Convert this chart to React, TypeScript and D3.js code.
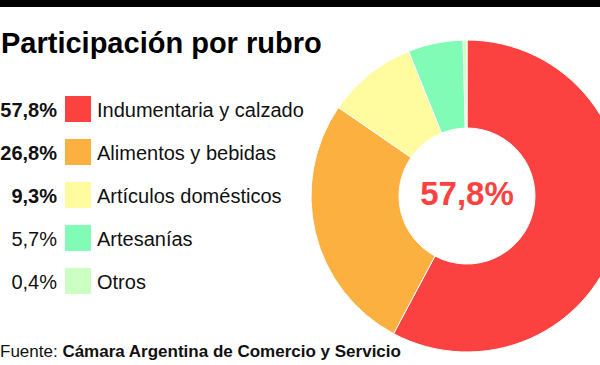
import React from "react";
import * as d3 from "d3";

const categories = ["Indumentaria y calzado", "Alimentos y bebidas", "Artículos domésticos", "Artesanías", "Otros"];
const values = [57.8, 26.8, 9.3, 5.7, 0.4];
const valueLabels = ["57,8%", "26,8%", "9,3%", "5,7%", "0,4%"];
const boldLabel = [true, true, true, false, false];
const colors = ["#FC4240", "#FBB040", "#FFFB9E", "#80FCB6", "#CCFFC2"];

const W = 600;
const H = 365;
const FONT = "'Liberation Sans', Arial, sans-serif";

export default function App() {
  const cx = 467;
  const cy = 196;
  const outerR = 156;
  const innerR = 68;

  const pie = d3
    .pie<number>()
    .sort(null)
    .value((d) => d)
    .startAngle(0)
    .endAngle(2 * Math.PI);
  const arcs = pie(values);
  const arcGen = d3.arc<d3.PieArcDatum<number>>().innerRadius(innerR).outerRadius(outerR);

  const rowY = d3.scaleLinear().domain([0, 1]).range([109, 152]);

  return (
    <svg
      width={W}
      height={H}
      viewBox={`0 0 ${W} ${H}`}
      style={{ position: "absolute", left: 0, top: 0, background: "#fff", fontFamily: FONT }}
    >
      <rect x={0} y={0} width={W} height={H} fill="#fff" />
      <rect x={0} y={0} width={W} height={7} fill="#000" />
      <text x={1} y={53} fontSize={29} fontWeight="bold" fill="#000">
        Participación por rubro
      </text>

      <g transform={`translate(${cx},${cy})`}>
        {arcs.map((a, i) => (
          <path key={i} d={arcGen(a) || ""} fill={colors[i]} stroke="#fff" strokeWidth={1} />
        ))}
        <text x={0} y={9} textAnchor="middle" fontSize={33} fontWeight="bold" fill={colors[0]}>
          {valueLabels[0]}
        </text>
      </g>

      {categories.map((c, i) => {
        const y = rowY(i);
        return (
          <g key={c}>
            <text
              x={57}
              y={y + 8}
              textAnchor="end"
              fontSize={20}
              fontWeight={boldLabel[i] ? "bold" : "normal"}
              fill="#111"
            >
              {valueLabels[i]}
            </text>
            <rect x={65} y={y - 13} width={26} height={26} fill={colors[i]} />
            <text x={97} y={y + 8} fontSize={20} fill="#111">
              {c}
            </text>
          </g>
        );
      })}

      <text x={0} y={357} fontSize={17} fill="#111">
        <tspan>Fuente: </tspan>
        <tspan fontWeight="bold">Cámara Argentina de Comercio y Servicio</tspan>
      </text>
    </svg>
  );
}
